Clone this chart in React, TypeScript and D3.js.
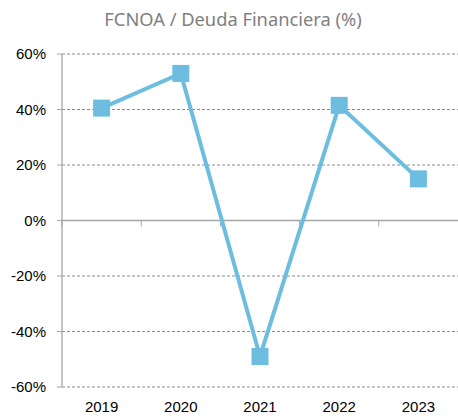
import React from "react";
import * as d3 from "d3";

const categories = ["2019", "2020", "2021", "2022", "2023"];
const values = [40.5, 53, -49, 41.5, 15];
const yTicks = [-60, -40, -20, 0, 20, 40, 60];
const title = "FCNOA / Deuda Financiera (%)";

const W = 458, H = 418;
const left = 62, right = 458, top = 54, bottom = 387;

export default function App() {
  const x = d3.scaleBand<string>().domain(categories).range([left, right]).padding(0);
  const y = d3.scaleLinear().domain([-60, 60]).range([bottom, top]);
  const line = d3.line<number>()
    .x((_, i) => (x(categories[i]) as number) + x.bandwidth() / 2)
    .y((d) => y(d));
  const gray = "#a6a6a6";
  const ms = 17;
  return (
    <svg width={W} height={H} style={{ position: "absolute", left: 0, top: 0 }}>
      <rect width={W} height={H} fill="#fff" />
      <text x={233} y={26} textAnchor="middle" fontFamily="Noto Sans, Open Sans, sans-serif" fontSize={18.3} fill="#7f7f7f">{title}</text>
      {yTicks.map((t) => (
        <g key={t}>
          {t !== 0 && (
            <line x1={left} x2={right} y1={y(t)} y2={y(t)} stroke="#8c8c8c" strokeWidth={1} strokeDasharray="3,2" />
          )}
          <line x1={left - 5} x2={left} y1={y(t)} y2={y(t)} stroke={gray} strokeWidth={1} />
          <text x={46} y={y(t) + 5} textAnchor="end" fontFamily="Liberation Sans, Arial, sans-serif" fontSize={15} fill="#000">{t}%</text>
        </g>
      ))}
      <line x1={left} x2={right} y1={y(0)} y2={y(0)} stroke={gray} strokeWidth={1.3} />
      {categories.map((c) => (
        <line key={c} x1={(x(c) as number)} x2={(x(c) as number)} y1={y(0)} y2={y(0) + 6} stroke={gray} strokeWidth={1} />
      ))}
      <line x1={left} x2={left} y1={top} y2={bottom} stroke={gray} strokeWidth={1.3} />
      {categories.map((c) => (
        <text key={c} x={(x(c) as number) + x.bandwidth() / 2} y={412} textAnchor="middle" fontFamily="Liberation Sans, Arial, sans-serif" fontSize={15} fill="#000">{c}</text>
      ))}
      <path d={line(values) || ""} fill="none" stroke="#6cbde0" strokeWidth={4} />
      {values.map((v, i) => (
        <rect key={i} x={(x(categories[i]) as number) + x.bandwidth() / 2 - ms / 2} y={y(v) - ms / 2} width={ms} height={ms} fill="#6cbde0" />
      ))}
    </svg>
  );
}
